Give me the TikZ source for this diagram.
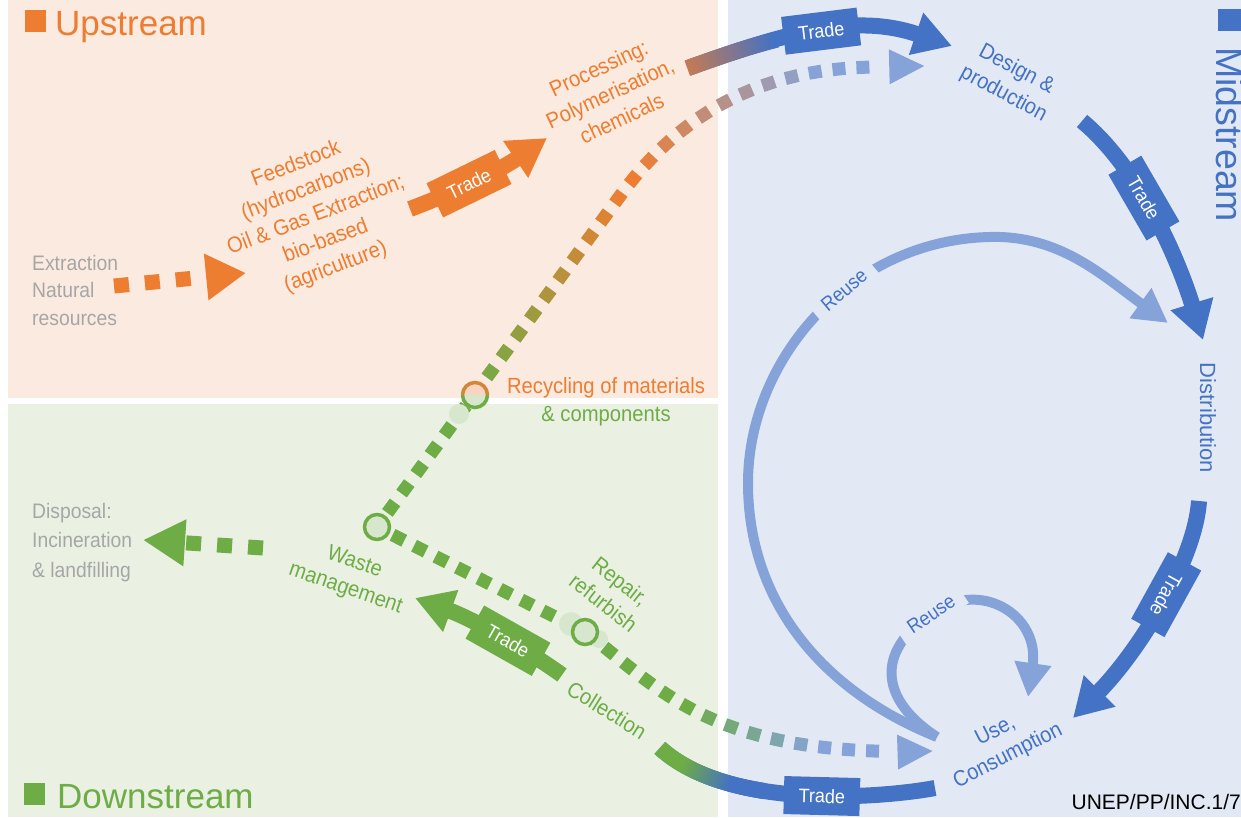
\documentclass[tikz,border=0pt]{standalone}
\usepackage{fontspec}
\setmainfont{Liberation Sans}
\newfontfamily\narrowfont[FakeStretch=0.92]{Liberation Sans}
\usetikzlibrary{arrows.meta, decorations.markings}
\definecolor{upfill}{HTML}{FBEADF}
\definecolor{downfill}{HTML}{EAF1E3}
\definecolor{midfill}{HTML}{E2E9F5}
\definecolor{inkorange}{HTML}{ED7D31}
\definecolor{inkgreen}{HTML}{6EAC46}
\definecolor{inkblue}{HTML}{4472C4}
\definecolor{inklight}{HTML}{85A3D9}
\definecolor{inkgrey}{HTML}{A6A6A6}
\definecolor{palegreen}{HTML}{D7E7CD}
\definecolor{palepeach}{HTML}{F6D6C3}
\newcommand{\lbl}{\narrowfont\fontsize{22}{27.5}\selectfont}
\newcommand{\tradefont}{\narrowfont\fontsize{19.5}{22}\selectfont}
\newcommand{\fadecol}[7]{%
  \pgfmathsetmacro\fadef{\pgfkeysvalueof{/pgf/decoration/mark info/distance from start}/\pgfdecoratedpathlength}%
  \pgfmathsetmacro\fadep{100-min(100,max(0,100*(\fadef-#4)/(#5-#4)))}%
  \pgfmathsetmacro\fadeq{100-min(100,max(0,100*(\fadef-#6)/(#7-#6)))}%
  \colorlet{fadec}{#1!\fadep!#2!\fadeq!#3}}

\begin{document}
\begin{tikzpicture}[x=1pt, y=-1pt,
    title/.style={anchor=base west, inner sep=0pt, font=\fontsize{35}{40}\selectfont},
    lab/.style={font=\lbl, align=center},
    faint/.style={anchor=north west, inner sep=0pt, align=left, text=inkgrey,
                  font=\narrowfont\fontsize{21}{27.5}\selectfont},
    dots/.style={line width=15pt, dash pattern=on 15pt off 16pt},
    flow/.style={line width=16pt, -{Triangle[length=38pt, width=42pt]}},
    tradebox/.style={fill=#1, text=white, font=\tradefont, minimum width=76pt,
                     minimum height=38pt, inner sep=0pt, sloped},
    reuse/.style={draw=inklight, line width=10pt, -{Triangle[length=34pt, width=35pt]}},
    reuselab/.style={text=inkblue, fill=midfill, inner xsep=11pt, inner ysep=5pt,
                     font=\narrowfont\fontsize{20}{24}\selectfont},
    ring/.style={circle, minimum size=25pt, inner sep=0pt, line width=3.5pt,
                 draw=inkgreen, fill=palegreen},
    fadedots/.style n args={8}{postaction={decorate}, decoration={markings,
      mark=between positions 0 and #8 step 24pt with {\fadecol{#1}{#2}{#3}{#4}{#5}{#6}{#7}%
        \fill[fadec] (-6.5pt,-6.5pt) rectangle (6.5pt,6.5pt);},
      mark=at position 0.999 with {\fill[#3] (-35pt,-17.5pt) -- (0pt,0pt) -- (-35pt,17.5pt) -- cycle;}}},
    fadestrip/.style n args={9}{postaction={decorate}, decoration={markings,
      mark=between positions #8 and #9 step 1pt with {\fadecol{#1}{#2}{#3}{#4}{#5}{#6}{#7}%
        \fill[fadec] (-0.8pt,-8pt) rectangle (0.8pt,8pt);}}}]
  \path[use as bounding box, fill=white] (0,0) rectangle (1241,817);
  \fill[upfill] (8,0) rectangle (718,398);
  \fill[downfill] (8,404) rectangle (718,817);
  \fill[midfill] (728,0) rectangle (1241,817);

  \fill[inkorange] (25,10) rectangle (46,32);
  \node[title, inkorange] (uptitle) at (55,35) {Upstream};
  \fill[inkgreen] (24,783) rectangle (45,805);
  \node[title, inkgreen] (downtitle) at (57,808) {Downstream};
  \fill[inkblue] (1218,9) rectangle (1241,31);
  \node[title, inkblue, rotate=-90, font=\fontsize{37.5}{40}\selectfont] (midtitle) at (1216,47) {Midstream};

  \node[faint] (extract) at (32,255) {Extraction\\Natural\\resources};
  \node[faint, font=\narrowfont\fontsize{21}{29.5}\selectfont] (disposal) at (32,503)
    {Disposal:\\Incineration\\\& landfilling};
  \node[lab, inkorange, rotate=21] (feed) at (316,216)
    {Feedstock\\(hydrocarbons)\\Oil \& Gas Extraction;\\bio-based\\(agriculture)};
  \node[lab, inkorange, rotate=25] (process) at (610,93) {Processing:\\Polymerisation,\\chemicals};
  \node[lab, inkblue, rotate=-28] (design) at (1010,82) {Design \&\\production};
  \node[lab, inkblue, rotate=-90, font=\fontsize{22}{27}\selectfont] (distrib) at (1208,418) {Distribution};
  \node[lab, inkblue, rotate=27] (use) at (1002,744) {Use,\\Consumption};
  \node[lab, inkgreen, rotate=-32] (collect) at (607,710) {Collection};
  \node[lab, inkgreen, rotate=-38] (repair) at (612,592) {Repair,\\refurbish};
  \node[lab, inkgreen, rotate=-19] (waste) at (350,576) {Waste\\management};
  \node[lab] (recycle) at (606,402)
    {\textcolor{inkorange}{Recycling of materials}\\\textcolor{inkgreen}{\& components}};
  \node[anchor=base east, inner sep=0pt, font=\fontsize{21}{24}\selectfont] (docref)
    at (1241,809) {UNEP/PP/INC.1/7};

  \coordinate (extract-out) at (114,286);
  \coordinate (feed-in) at (246,273);
  \coordinate (feed-out) at (410,209);
  \coordinate (process-in) at (547,138);
  \coordinate (process-out) at (688,68);
  \coordinate (design-in) at (952,46);
  \coordinate (recycle-in) at (925,66);
  \coordinate (design-out) at (1082,121);
  \coordinate (distrib-in) at (1203,340);
  \coordinate (distrib-out) at (1199,501);
  \coordinate (use-in) at (1073,718);
  \coordinate (use-out) at (935,788);
  \coordinate (collect-in) at (660,748);
  \coordinate (collect-out) at (562,675);
  \coordinate (waste-in) at (415,598);
  \coordinate (waste-out) at (263,548);
  \coordinate (disposal-in) at (143,540);
  \coordinate (reuse-out) at (937,737);
  \coordinate (reuse-in) at (1168,323);
  \coordinate (reuse-back) at (1028,697);
  \coordinate (repair-in) at (933,751);
  \coordinate (wastec) at (377,527);
  \coordinate (repairc) at (585,632);
  \coordinate (recyclec) at (475,395);

  \draw[dots, inkorange, -{Triangle[length=40pt, width=44pt]}] (extract-out) -- (feed-in);
  \draw[flow, inkorange] (feed-out) .. controls (460,190) and (500,170) .. (process-in)
    node[tradebox=inkorange, pos=0.42] {Trade};
  \draw[flow, inkblue, fadestrip={inkorange}{inkorange}{inkblue}{0}{1}{-0.1}{0.33}{0}{0.34}]
    (process-out) .. controls (788,32) and (855,13) .. (design-in)
    node[tradebox=inkblue, pos=0.5] {Trade};
  \draw[flow, inkblue] (design-out) .. controls (1142,171) and (1180,265) .. (distrib-in)
    node[tradebox=inkblue, pos=0.4] {Trade};
  \draw[flow, inkblue] (distrib-out) .. controls (1195,560) and (1140,650) .. (use-in)
    node[tradebox=inkblue, pos=0.45, allow upside down] {Trade};
  \draw[line width=16pt, inkblue, fadestrip={inkblue}{inkblue}{inkgreen}{0}{1}{0.72}{0.9}{0.6}{1}]
    (use-out) .. controls (887,797) and (730,812) .. (collect-in)
    node[tradebox=inkblue, pos=0.45] {Trade};
  \draw[flow, inkgreen] (collect-out) .. controls (520,645) and (470,618) .. (waste-in)
    node[tradebox=inkgreen, pos=0.4] {Trade};
  \draw[dots, inkgreen, -{Triangle[length=42pt, width=44pt]}] (waste-out) -- (disposal-in);

  \path[fadedots={inkgreen}{inkorange}{inklight}{0.22}{0.55}{0.58}{0.86}{0.93}]
    (wastec) -- (620,196) .. controls (679,115) and (760,67) .. (880,67) -- (recycle-in);
  \path[fadedots={inkgreen}{inkgreen}{inklight}{0}{1}{0.59}{0.81}{0.92}]
    (wastec) -- (repairc) .. controls (660,688) and (710,758) .. (repair-in);

  \draw[reuse] (reuse-out) .. controls (820,690) and (748,600) .. (748,483)
    .. controls (748,360) and (850,240) .. (990,237)
    .. controls (1060,235) and (1103,276) .. (reuse-in);
  \node[reuselab, rotate=40] (reuse1) at (844,290) {Reuse};
  \draw[reuse] (reuse-out) .. controls (880,700) and (875,652) .. (931,614)
    .. controls (980,578) and (1040,615) .. (reuse-back);
  \node[reuselab, rotate=34] (reuse2) at (931,614) {Reuse};

  \fill[palegreen] (459,414) circle[radius=10pt];
  \fill[palegreen] (571,624) circle[radius=12pt];
  \fill[palegreen] (599,639) circle[radius=9pt];
  \node[ring] (wastept) at (wastec) {};
  \node[ring] (repairpt) at (repairc) {};
  \node[ring, draw=none] (recyclept) at (recyclec) {};
  \fill[palepeach] (recyclept.center) ++(-12.5pt,0) arc[start angle=180, end angle=0, radius=12.5pt] -- cycle;
  \draw[line width=3.5pt, inkorange!80!inkgreen] (recyclept.center) ++(-12.5pt,0)
    arc[start angle=180, end angle=0, radius=12.5pt];
  \draw[line width=3.5pt, inkgreen] (recyclept.center) ++(12.5pt,0)
    arc[start angle=0, end angle=-180, radius=12.5pt];
\end{tikzpicture}
\end{document}
